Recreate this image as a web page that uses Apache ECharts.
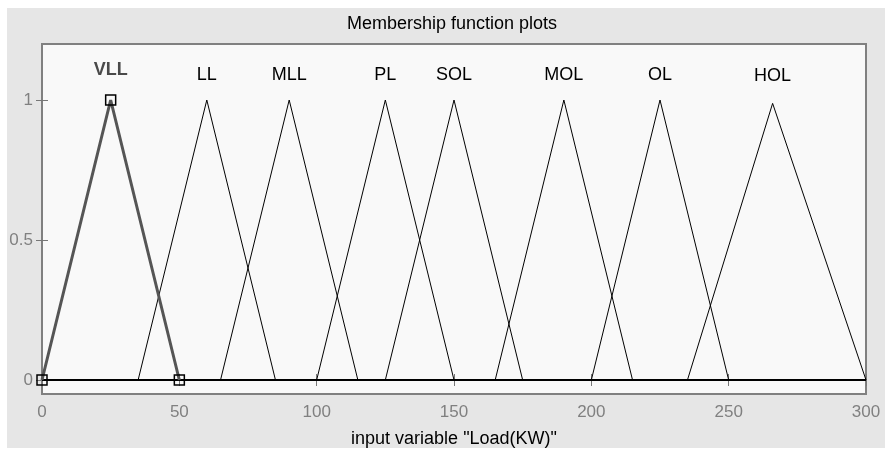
<!DOCTYPE html>
<html>
<head>
<meta charset="utf-8">
<script src="https://cdn.jsdelivr.net/npm/echarts@6/dist/echarts.min.js"></script>
<style>html,body{margin:0;padding:0;background:#fff}#c{width:885px;height:450px}</style>
</head>
<body>
<div id="c"></div>
<script>
// Membership functions (triangular): name, left foot, peak, right foot, peak value
const mfNames  = ['VLL', 'LL', 'MLL', 'PL', 'SOL', 'MOL', 'OL', 'HOL'];
const mfLeft   = [0,   35,  65, 100, 125, 165, 200, 235];
const mfPeak   = [25,  60,  90, 125, 150, 190, 225, 266];
const mfRight  = [50,  85, 115, 150, 175, 215, 250, 300];
const mfHeight = [1,    1,   1,   1,   1,   1,   1, 0.988];
const xTicks = [0, 50, 100, 150, 200, 250, 300];
const yTicks = [0, 0.5, 1];
const xRange = [0, 300];
const selected = 0; // VLL highlighted

const chart = echarts.init(document.getElementById('c'), null, {renderer: 'canvas'});
const FONT = 'Liberation Sans, Arial, sans-serif';

const series = [];
// baseline (all MFs are zero outside their support)
series.push({
  type: 'line', xAxisIndex: 0, yAxisIndex: 0, z: 3,
  data: [[xRange[0], 0], [xRange[1], 0]],
  symbol: 'none', lineStyle: {color: '#000', width: 2}, silent: true, animation: false
});
mfNames.forEach((n, i) => {
  const sel = i === selected;
  const pts = [[mfLeft[i], 0], [mfPeak[i], mfHeight[i]], [mfRight[i], 0]];
  series.push({
    type: 'line', name: n, xAxisIndex: 0, yAxisIndex: 0, z: sel ? 5 : 4,
    clip: false,
    data: pts.map((p, k) => ({
      value: p,
      label: k === 1 ? {
        show: true, position: 'top', distance: sel ? 15 : (mfHeight[i] < 1 ? 18 : 15),
        formatter: n, fontFamily: FONT, fontSize: 18,
        fontWeight: sel ? 'bold' : 'normal', color: sel ? '#4a4a4a' : '#000'
      } : {show: false}
    })),
    symbol: 'rect', symbolSize: sel ? 10 : 0.01, showAllSymbol: true,
    itemStyle: {color: 'rgba(0,0,0,0)', borderColor: sel ? '#000' : 'rgba(0,0,0,0)', borderWidth: 1.5},
    lineStyle: {color: sel ? '#555' : '#000', width: sel ? 3 : 1},
    labelLayout: {hideOverlap: false},
    silent: true, animation: false
  });
});

const tickStyle = {inside: true, length: 6, lineStyle: {color: '#777', width: 1}};
chart.setOption({
  backgroundColor: '#fff',
  animation: false,
  graphic: [
    {type: 'rect', z: -10, shape: {x: 7, y: 8, width: 878, height: 440}, style: {fill: '#e6e6e6'}},
    {type: 'text', z: 10, x: 452, y: 24, style: {text: 'Membership function plots', fontFamily: FONT, fontSize: 18, fill: '#000', align: 'center', verticalAlign: 'middle'}}
  ],
  grid: {left: 42, right: 19, top: 44, bottom: 56, outerBoundsMode: 'none', containLabel: false,
         show: true, backgroundColor: '#f9f9f9', borderColor: '#808080', borderWidth: 2},
  xAxis: [
    {type: 'value', min: xRange[0], max: xRange[1], interval: 50, position: 'bottom',
     axisLine: {show: false}, splitLine: {show: false}, axisTick: tickStyle,
     axisLabel: {color: '#808080', fontFamily: FONT, fontSize: 17, margin: 10, customValues: xTicks},
     name: 'input variable "Load(KW)"', nameLocation: 'middle', nameGap: 36,
     nameTextStyle: {color: '#000', fontFamily: FONT, fontSize: 18}},
    {type: 'value', min: xRange[0], max: xRange[1], interval: 50, position: 'top',
     axisLine: {show: false}, splitLine: {show: false}, axisTick: tickStyle, axisLabel: {show: false}}
  ],
  yAxis: [
    {type: 'value', min: -0.05, max: 1.2, position: 'left',
     axisLine: {show: false}, splitLine: {show: false},
     axisTick: Object.assign({customValues: yTicks}, tickStyle),
     axisLabel: {color: '#808080', fontFamily: FONT, fontSize: 17, margin: 9, customValues: yTicks}},
    {type: 'value', min: -0.05, max: 1.2, position: 'right',
     axisLine: {show: false}, splitLine: {show: false},
     axisTick: Object.assign({customValues: yTicks}, tickStyle), axisLabel: {show: false}}
  ],
  series: series
});
</script>
</body>
</html>
